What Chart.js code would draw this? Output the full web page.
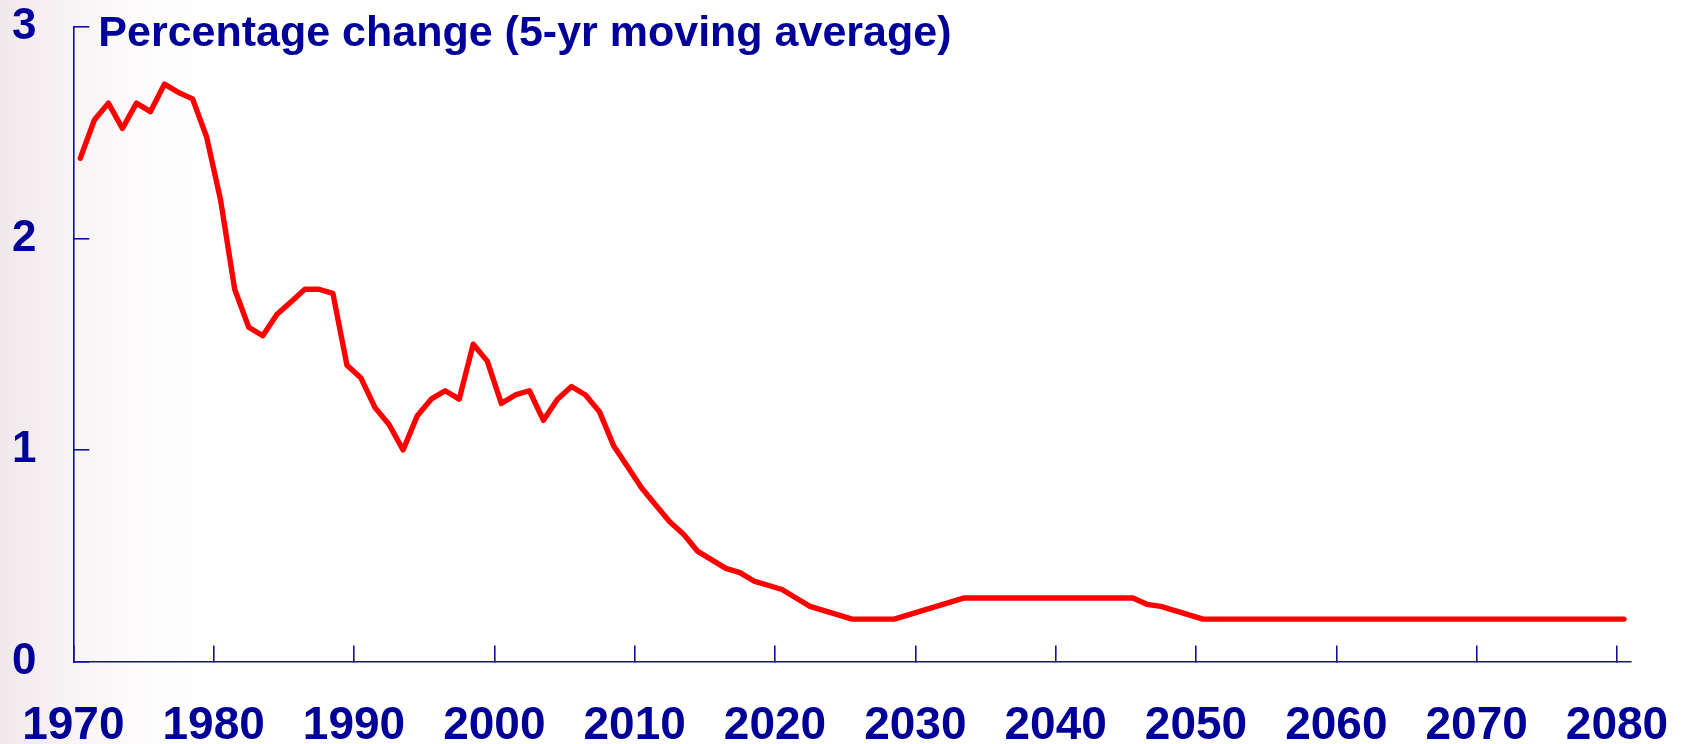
<!DOCTYPE html>
<html>
<head>
<meta charset="utf-8">
<script src="https://cdn.jsdelivr.net/npm/chart.js@4.4.1/dist/chart.umd.min.js"></script>
<style>
  html, body { margin: 0; padding: 0; background: #ffffff; }
  #wrap { width: 1689px; height: 744px; position: relative; }
  canvas { display: block; }
</style>
</head>
<body>
<div id="wrap"><canvas id="c" width="1689" height="744"></canvas></div>
<script>
// ---- data ----
const chartTitle = 'Percentage change (5-yr moving average)';
const firstYear = 1970;
const lastYear = 2080;
// annual values, 1970 ... 2080
const pctChange = [
  2.38, 2.56, 2.64, 2.52, 2.64, 2.60, 2.73, 2.69, 2.66, 2.48,
  2.18, 1.76, 1.58, 1.54, 1.64, 1.70, 1.76, 1.76, 1.74, 1.40,
  1.34, 1.20, 1.12, 1.00, 1.16, 1.24, 1.28, 1.24, 1.50, 1.42,
  1.22, 1.26, 1.28, 1.14, 1.24, 1.30, 1.26, 1.18, 1.02, 0.92,
  0.82, 0.74, 0.66, 0.60, 0.52, 0.48, 0.44, 0.42, 0.38, 0.36,
  0.34, 0.30, 0.26, 0.24, 0.22, 0.20, 0.20, 0.20, 0.20, 0.22,
  0.24, 0.26, 0.28, 0.30, 0.30, 0.30, 0.30, 0.30, 0.30, 0.30,
  0.30, 0.30, 0.30, 0.30, 0.30, 0.30, 0.27, 0.26, 0.24, 0.22,
  0.20, 0.20, 0.20, 0.20, 0.20, 0.20, 0.20, 0.20, 0.20, 0.20,
  0.20, 0.20, 0.20, 0.20, 0.20, 0.20, 0.20, 0.20, 0.20, 0.20,
  0.20, 0.20, 0.20, 0.20, 0.20, 0.20, 0.20, 0.20, 0.20, 0.20,
  0.20
];
const xTickYears = [1970, 1980, 1990, 2000, 2010, 2020, 2030, 2040, 2050, 2060, 2070, 2080];
const yTickValues = [0, 1, 2, 3];

// categories: one per year
const years = pctChange.map((_, i) => firstYear + i);

// ---- styling ----
const NAVY = '#000099';
const AXIS = '#10109c';
const FONT = '"Liberation Sans", Arial, sans-serif';

// each year's value is drawn at the middle of its year interval
const points = years.map((y, i) => ({ x: y + 0.5, y: pctChange[i] }));

const bgPlugin = {
  id: 'bg',
  beforeDraw(chart) {
    const { ctx, width, height } = chart;
    ctx.save();
    ctx.fillStyle = '#ffffff';
    ctx.fillRect(0, 0, width, height);
    const g = ctx.createLinearGradient(0, 0, 240, 0);
    g.addColorStop(0, 'rgba(238,228,232,0.85)');
    g.addColorStop(0.5, 'rgba(250,245,247,0.6)');
    g.addColorStop(1, 'rgba(255,255,255,0)');
    ctx.fillStyle = g;
    ctx.fillRect(0, 0, 240, height);
    ctx.restore();
  }
};

const titlePlugin = {
  id: 'innerTitle',
  afterDraw(chart) {
    const { ctx, chartArea } = chart;
    ctx.save();
    ctx.font = 'bold 43px ' + FONT;
    ctx.fillStyle = NAVY;
    ctx.textAlign = 'left';
    ctx.textBaseline = 'alphabetic';
    ctx.fillText(chartTitle, chartArea.left + 25, chartArea.top + 18.8);
    ctx.restore();
  }
};

new Chart(document.getElementById('c'), {
  type: 'line',
  data: {
    datasets: [{
      label: chartTitle,
      data: points,
      borderColor: '#ff0000',
      borderWidth: 5.4,
      pointRadius: 0,
      tension: 0,
      borderJoinStyle: 'round',
      borderCapStyle: 'round',
      fill: false
    }]
  },
  options: {
    responsive: false,
    animation: false,
    devicePixelRatio: 1,
    layout: { padding: { left: 12, top: 27, right: 58, bottom: 0 } },
    plugins: { legend: { display: false }, title: { display: false }, tooltip: { enabled: false } },
    scales: {
      x: {
        type: 'linear',
        min: firstYear,
        max: lastYear + 1,
        afterBuildTicks(scale) {
          scale.ticks = xTickYears.map(v => ({ value: v }));
        },
        afterFit(scale) {
          scale.height = 82.6;
          scale.paddingLeft = 0;
          scale.paddingRight = 0;
        },
        ticks: {
          color: NAVY,
          font: { family: FONT, size: 46, weight: 'bold' },
          padding: 53.4,
          maxRotation: 0,
          autoSkip: false,
          callback: (v) => String(v)
        },
        grid: {
          drawOnChartArea: false,
          drawTicks: true,
          tickLength: -16,
          color: AXIS,
          lineWidth: 1.6
        },
        border: { display: true, color: AXIS, width: 1.6 }
      },
      y: {
        min: 0,
        max: 3,
        afterBuildTicks(scale) {
          scale.ticks = yTickValues.map(v => ({ value: v }));
        },
        afterFit(scale) {
          scale.width = 61.3;
          scale.paddingTop = 0;
          scale.paddingBottom = 0;
        },
        ticks: {
          color: NAVY,
          font: { family: FONT, size: 44, weight: 'bold' },
          crossAlign: 'far',
          padding: 10,
          callback: (v) => String(v)
        },
        grid: {
          drawOnChartArea: false,
          drawTicks: true,
          tickLength: -16,
          color: AXIS,
          lineWidth: 1.6
        },
        border: { display: true, color: AXIS, width: 1.6 }
      }
    }
  },
  plugins: [bgPlugin, titlePlugin]
});
</script>
</body>
</html>
